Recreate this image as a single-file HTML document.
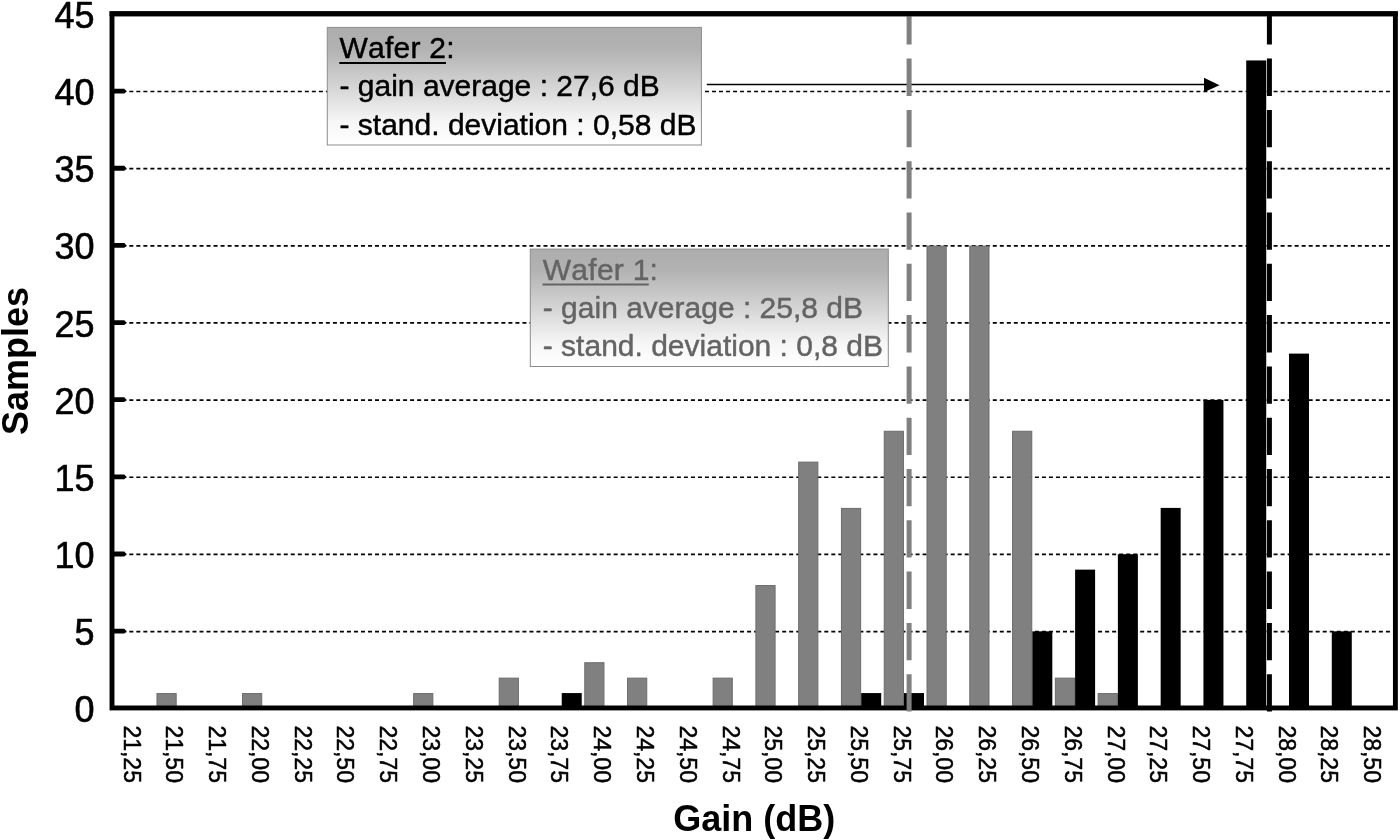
<!DOCTYPE html>
<html lang="en"><head><meta charset="utf-8"><title>Gain histogram</title>
<style>html,body{margin:0;padding:0;background:#fff;}body{width:1400px;height:840px;overflow:hidden;}svg{display:block;font-family:"Liberation Sans",Arial,sans-serif;}text{stroke-linejoin:round;font-kerning:none;}</style></head><body>
<svg width="1400" height="840" viewBox="0 0 1400 840">
<defs><linearGradient id="g1" x1="0" y1="0" x2="0" y2="1"><stop offset="0" stop-color="#adadad"/><stop offset="0.18" stop-color="#b2b2b2"/><stop offset="0.5" stop-color="#d4d4d4"/><stop offset="0.8" stop-color="#f6f6f6"/><stop offset="1" stop-color="#ffffff"/></linearGradient></defs>
<rect width="1400" height="840" fill="#fff"/>
<line x1="122.3" y1="631.55" x2="1392.4" y2="631.55" stroke="#000" stroke-width="1.7" stroke-dasharray="4 3.02"/>
<line x1="122.3" y1="554.40" x2="1392.4" y2="554.40" stroke="#000" stroke-width="1.7" stroke-dasharray="4 3.02"/>
<line x1="122.3" y1="477.25" x2="1392.4" y2="477.25" stroke="#000" stroke-width="1.7" stroke-dasharray="4 3.02"/>
<line x1="122.3" y1="400.10" x2="1392.4" y2="400.10" stroke="#000" stroke-width="1.7" stroke-dasharray="4 3.02"/>
<line x1="122.3" y1="322.95" x2="1392.4" y2="322.95" stroke="#000" stroke-width="1.7" stroke-dasharray="4 3.02"/>
<line x1="122.3" y1="245.80" x2="1392.4" y2="245.80" stroke="#000" stroke-width="1.7" stroke-dasharray="4 3.02"/>
<line x1="122.3" y1="168.65" x2="1392.4" y2="168.65" stroke="#000" stroke-width="1.7" stroke-dasharray="4 3.02"/>
<line x1="122.3" y1="91.50" x2="1392.4" y2="91.50" stroke="#000" stroke-width="1.7" stroke-dasharray="4 3.02"/>
<rect x="156.97" y="693.57" width="19.20" height="15.43" fill="#808080" stroke="#6c6c6c" stroke-width="1"/>
<rect x="242.53" y="693.57" width="19.20" height="15.43" fill="#808080" stroke="#6c6c6c" stroke-width="1"/>
<rect x="413.65" y="693.57" width="19.20" height="15.43" fill="#808080" stroke="#6c6c6c" stroke-width="1"/>
<rect x="499.21" y="678.14" width="19.20" height="30.86" fill="#808080" stroke="#6c6c6c" stroke-width="1"/>
<rect x="561.74" y="693.07" width="20.00" height="15.43" fill="#000"/>
<rect x="584.77" y="662.71" width="19.20" height="46.29" fill="#808080" stroke="#6c6c6c" stroke-width="1"/>
<rect x="627.55" y="678.14" width="19.20" height="30.86" fill="#808080" stroke="#6c6c6c" stroke-width="1"/>
<rect x="713.11" y="678.14" width="19.20" height="30.86" fill="#808080" stroke="#6c6c6c" stroke-width="1"/>
<rect x="755.89" y="585.56" width="19.20" height="123.44" fill="#808080" stroke="#6c6c6c" stroke-width="1"/>
<rect x="798.67" y="462.12" width="19.20" height="246.88" fill="#808080" stroke="#6c6c6c" stroke-width="1"/>
<rect x="841.45" y="508.41" width="19.20" height="200.59" fill="#808080" stroke="#6c6c6c" stroke-width="1"/>
<rect x="861.20" y="693.07" width="20.00" height="15.43" fill="#000"/>
<rect x="884.23" y="431.26" width="19.20" height="277.74" fill="#808080" stroke="#6c6c6c" stroke-width="1"/>
<rect x="903.98" y="693.07" width="20.00" height="15.43" fill="#000"/>
<rect x="927.01" y="246.10" width="19.20" height="462.90" fill="#808080" stroke="#6c6c6c" stroke-width="1"/>
<rect x="969.79" y="246.10" width="19.20" height="462.90" fill="#808080" stroke="#6c6c6c" stroke-width="1"/>
<rect x="1012.57" y="431.26" width="19.20" height="277.74" fill="#808080" stroke="#6c6c6c" stroke-width="1"/>
<rect x="1032.32" y="631.35" width="20.00" height="77.15" fill="#000"/>
<rect x="1055.35" y="678.14" width="19.20" height="30.86" fill="#808080" stroke="#6c6c6c" stroke-width="1"/>
<rect x="1075.10" y="569.63" width="20.00" height="138.87" fill="#000"/>
<rect x="1098.13" y="693.57" width="19.20" height="15.43" fill="#808080" stroke="#6c6c6c" stroke-width="1"/>
<rect x="1117.88" y="554.20" width="20.00" height="154.30" fill="#000"/>
<rect x="1160.66" y="507.91" width="20.00" height="200.59" fill="#000"/>
<rect x="1203.44" y="399.90" width="20.00" height="308.60" fill="#000"/>
<rect x="1246.22" y="60.44" width="20.00" height="648.06" fill="#000"/>
<rect x="1289.00" y="353.61" width="20.00" height="354.89" fill="#000"/>
<rect x="1331.78" y="631.35" width="20.00" height="77.15" fill="#000"/>
<path d="M112.0 628.75 H124.3 L126.6 631.35 L124.3 633.55 H112.0 Z" fill="#000"/>
<path d="M112.0 551.60 H124.3 L126.6 554.20 L124.3 556.40 H112.0 Z" fill="#000"/>
<path d="M112.0 474.45 H124.3 L126.6 477.05 L124.3 479.25 H112.0 Z" fill="#000"/>
<path d="M112.0 397.30 H124.3 L126.6 399.90 L124.3 402.10 H112.0 Z" fill="#000"/>
<path d="M112.0 320.15 H124.3 L126.6 322.75 L124.3 324.95 H112.0 Z" fill="#000"/>
<path d="M112.0 243.00 H124.3 L126.6 245.60 L124.3 247.80 H112.0 Z" fill="#000"/>
<path d="M112.0 165.85 H124.3 L126.6 168.45 L124.3 170.65 H112.0 Z" fill="#000"/>
<path d="M112.0 88.70 H124.3 L126.6 91.30 L124.3 93.50 H112.0 Z" fill="#000"/>
<rect x="112.00" y="13.80" width="1283.40" height="694.15" fill="none" stroke="#000" stroke-width="4.9"/>
<text x="94.6" y="722.30" font-size="36" text-anchor="end" fill="#000" stroke="#000" stroke-width="0.6">0</text>
<text x="94.6" y="645.15" font-size="36" text-anchor="end" fill="#000" stroke="#000" stroke-width="0.6">5</text>
<text x="94.6" y="568.00" font-size="36" text-anchor="end" fill="#000" stroke="#000" stroke-width="0.6">10</text>
<text x="94.6" y="490.85" font-size="36" text-anchor="end" fill="#000" stroke="#000" stroke-width="0.6">15</text>
<text x="94.6" y="413.70" font-size="36" text-anchor="end" fill="#000" stroke="#000" stroke-width="0.6">20</text>
<text x="94.6" y="336.55" font-size="36" text-anchor="end" fill="#000" stroke="#000" stroke-width="0.6">25</text>
<text x="94.6" y="259.40" font-size="36" text-anchor="end" fill="#000" stroke="#000" stroke-width="0.6">30</text>
<text x="94.6" y="182.25" font-size="36" text-anchor="end" fill="#000" stroke="#000" stroke-width="0.6">35</text>
<text x="94.6" y="105.10" font-size="36" text-anchor="end" fill="#000" stroke="#000" stroke-width="0.6">40</text>
<text x="94.6" y="27.95" font-size="36" text-anchor="end" fill="#000" stroke="#000" stroke-width="0.6">45</text>
<text transform="translate(123.59 725.4) rotate(90)" font-size="23" fill="#000" stroke="#000" stroke-width="0.5">21,25</text>
<text transform="translate(166.37 725.4) rotate(90)" font-size="23" fill="#000" stroke="#000" stroke-width="0.5">21,50</text>
<text transform="translate(209.15 725.4) rotate(90)" font-size="23" fill="#000" stroke="#000" stroke-width="0.5">21,75</text>
<text transform="translate(251.93 725.4) rotate(90)" font-size="23" fill="#000" stroke="#000" stroke-width="0.5">22,00</text>
<text transform="translate(294.71 725.4) rotate(90)" font-size="23" fill="#000" stroke="#000" stroke-width="0.5">22,25</text>
<text transform="translate(337.49 725.4) rotate(90)" font-size="23" fill="#000" stroke="#000" stroke-width="0.5">22,50</text>
<text transform="translate(380.27 725.4) rotate(90)" font-size="23" fill="#000" stroke="#000" stroke-width="0.5">22,75</text>
<text transform="translate(423.05 725.4) rotate(90)" font-size="23" fill="#000" stroke="#000" stroke-width="0.5">23,00</text>
<text transform="translate(465.83 725.4) rotate(90)" font-size="23" fill="#000" stroke="#000" stroke-width="0.5">23,25</text>
<text transform="translate(508.61 725.4) rotate(90)" font-size="23" fill="#000" stroke="#000" stroke-width="0.5">23,50</text>
<text transform="translate(551.39 725.4) rotate(90)" font-size="23" fill="#000" stroke="#000" stroke-width="0.5">23,75</text>
<text transform="translate(594.17 725.4) rotate(90)" font-size="23" fill="#000" stroke="#000" stroke-width="0.5">24,00</text>
<text transform="translate(636.95 725.4) rotate(90)" font-size="23" fill="#000" stroke="#000" stroke-width="0.5">24,25</text>
<text transform="translate(679.73 725.4) rotate(90)" font-size="23" fill="#000" stroke="#000" stroke-width="0.5">24,50</text>
<text transform="translate(722.51 725.4) rotate(90)" font-size="23" fill="#000" stroke="#000" stroke-width="0.5">24,75</text>
<text transform="translate(765.29 725.4) rotate(90)" font-size="23" fill="#000" stroke="#000" stroke-width="0.5">25,00</text>
<text transform="translate(808.07 725.4) rotate(90)" font-size="23" fill="#000" stroke="#000" stroke-width="0.5">25,25</text>
<text transform="translate(850.85 725.4) rotate(90)" font-size="23" fill="#000" stroke="#000" stroke-width="0.5">25,50</text>
<text transform="translate(893.63 725.4) rotate(90)" font-size="23" fill="#000" stroke="#000" stroke-width="0.5">25,75</text>
<text transform="translate(936.41 725.4) rotate(90)" font-size="23" fill="#000" stroke="#000" stroke-width="0.5">26,00</text>
<text transform="translate(979.19 725.4) rotate(90)" font-size="23" fill="#000" stroke="#000" stroke-width="0.5">26,25</text>
<text transform="translate(1021.97 725.4) rotate(90)" font-size="23" fill="#000" stroke="#000" stroke-width="0.5">26,50</text>
<text transform="translate(1064.75 725.4) rotate(90)" font-size="23" fill="#000" stroke="#000" stroke-width="0.5">26,75</text>
<text transform="translate(1107.53 725.4) rotate(90)" font-size="23" fill="#000" stroke="#000" stroke-width="0.5">27,00</text>
<text transform="translate(1150.31 725.4) rotate(90)" font-size="23" fill="#000" stroke="#000" stroke-width="0.5">27,25</text>
<text transform="translate(1193.09 725.4) rotate(90)" font-size="23" fill="#000" stroke="#000" stroke-width="0.5">27,50</text>
<text transform="translate(1235.87 725.4) rotate(90)" font-size="23" fill="#000" stroke="#000" stroke-width="0.5">27,75</text>
<text transform="translate(1278.65 725.4) rotate(90)" font-size="23" fill="#000" stroke="#000" stroke-width="0.5">28,00</text>
<text transform="translate(1321.43 725.4) rotate(90)" font-size="23" fill="#000" stroke="#000" stroke-width="0.5">28,25</text>
<text transform="translate(1364.21 725.4) rotate(90)" font-size="23" fill="#000" stroke="#000" stroke-width="0.5">28,50</text>
<text transform="translate(28.2 361) rotate(-90)" font-size="36" font-weight="bold" text-anchor="middle" fill="#000">Samples</text>
<text x="754.3" y="830.8" font-size="36" font-weight="bold" text-anchor="middle" fill="#000">Gain (dB)</text>
<line x1="706.8" y1="84.5" x2="1206" y2="84.5" stroke="#000" stroke-width="1.6"/>
<path d="M1204 77.8 L1219.5 85.2 L1204 92.3 Z" fill="#000"/>
<line x1="909.1" y1="13.80" x2="909.1" y2="711.5" stroke="#808080" stroke-width="5" stroke-dasharray="37.3 14" stroke-dashoffset="6.50"/>
<line x1="1269.4" y1="13.80" x2="1269.4" y2="711.7" stroke="#000" stroke-width="5" stroke-dasharray="37.3 14" stroke-dashoffset="6.50"/>
<line x1="109.60" y1="13.80" x2="1397.80" y2="13.80" stroke="#000" stroke-width="4.9"/>
<rect x="327.3" y="27.4" width="374.1" height="117.6" fill="url(#g1)" stroke="#8c8c8c" stroke-width="1"/>
<text font-size="30" fill="#000" stroke="#000" stroke-width="0.45"><tspan x="339.5" y="58" letter-spacing="0.25">Wafer 2:</tspan><tspan x="339.5" y="96.3">- gain average : 27,6 dB</tspan><tspan x="339.5" y="134.7">- stand. deviation : 0,58 dB</tspan></text>
<line x1="339.3" y1="63" x2="446" y2="63" stroke="#000" stroke-width="2.2"/>
<rect x="530.3" y="249.1" width="358" height="117.4" fill="url(#g1)" stroke="#8c8c8c" stroke-width="1"/>
<text font-size="30" fill="#646464" stroke="#646464" stroke-width="0.45"><tspan x="542.8" y="279.5" letter-spacing="0.25">Wafer 1:</tspan><tspan x="542.8" y="317.8">- gain average : 25,8 dB</tspan><tspan x="542.8" y="356.4">- stand. deviation : 0,8 dB</tspan></text>
<line x1="542.5" y1="284.5" x2="648.8" y2="284.5" stroke="#646464" stroke-width="2.2"/>
</svg></body></html>
